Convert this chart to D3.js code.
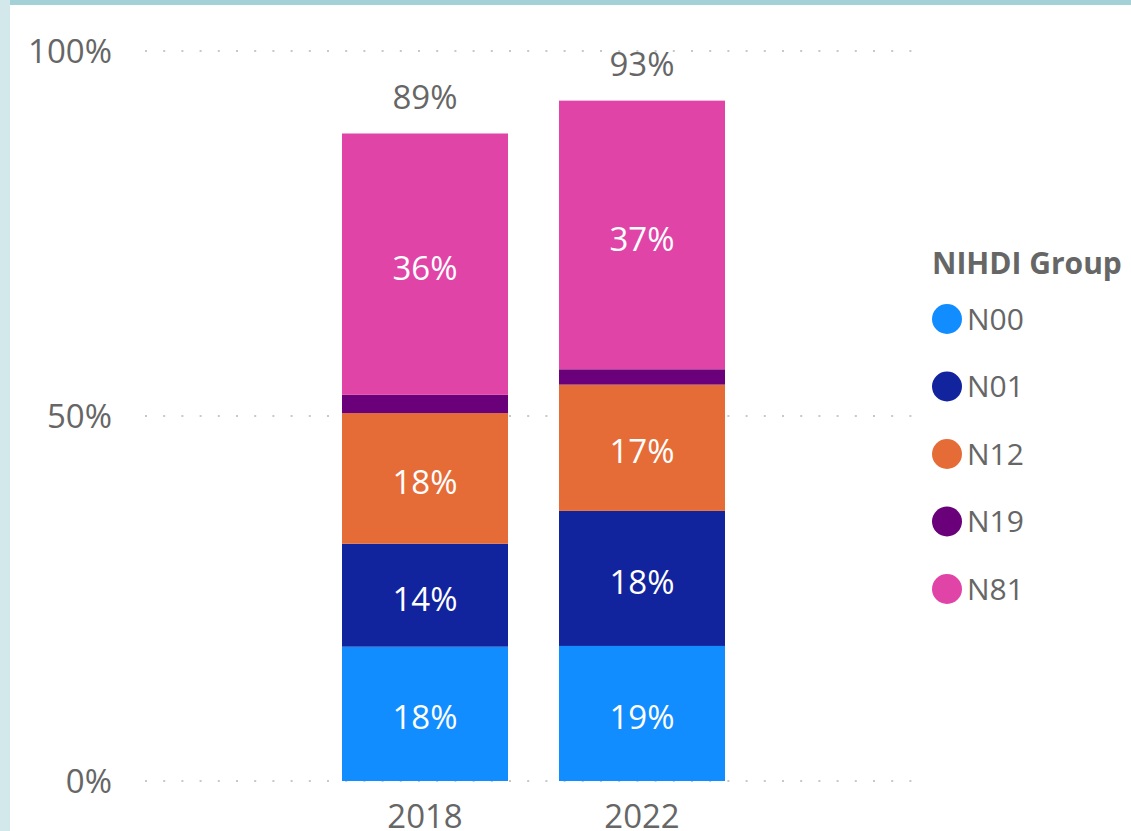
<!DOCTYPE html>
<html>
<head>
<meta charset="utf-8">
<script src="https://cdn.jsdelivr.net/npm/d3@7"></script>
<style>
  html, body { margin: 0; padding: 0; background: #fff; }
  svg { display: block; font-family: "Open Sans", "Noto Sans", sans-serif; }
</style>
</head>
<body>
<svg id="chart" width="1131" height="831"></svg>
<script>
// values, in percent
const years = ['2018', '2022']
const groups = ['N00', 'N01', 'N12', 'N19', 'N81']
const n00 = [18.4, 18.5]
const n01 = [14.1, 18.5]
const n12 = [17.9, 17.3]
const n19 = [2.5, 2.1]
const n81 = [35.8, 36.8]
const totalLabels = ['89%', '93%']
const segLabels = {
  N00: ['18%', '19%'],
  N01: ['14%', '18%'],
  N12: ['18%', '17%'],
  N19: ['', ''],
  N81: ['36%', '37%']
}
const yTicks = [0, 50, 100]
const colors = ['#118DFF', '#12239E', '#E66C37', '#6B007B', '#E044A7']

const width = 1131
const height = 831
const margin = { top: 51, bottom: 50, left: 145, right: 211 }

const rows = years.map((y, i) => ({
  year: y,
  N00: n00[i], N01: n01[i], N12: n12[i], N19: n19[i], N81: n81[i]
}))
const stacked = d3.stack().keys(groups)(rows)

const svg = d3.select('#chart')

// frame strips
svg.append('rect').attr('x', 0).attr('y', 0).attr('width', 10).attr('height', height).attr('fill', '#d3e8eb')
svg.append('rect').attr('x', 10).attr('y', 0).attr('width', width - 10).attr('height', 5).attr('fill', '#a4d0d7')

const xScale = d3.scaleBand()
  .domain(years)
  .range([342, 725])
  .paddingInner(0.235)
  .paddingOuter(0)

const yScale = d3.scaleLinear()
  .domain([0, 100])
  .range([height - margin.bottom, margin.top])

const color = d3.scaleOrdinal().domain(groups).range(colors)

// dotted grid
svg.append('g')
  .selectAll('line')
  .data(yTicks)
  .join('line')
  .attr('x1', margin.left)
  .attr('x2', 921)
  .attr('y1', d => yScale(d))
  .attr('y2', d => yScale(d))
  .attr('stroke', '#c8c8c8')
  .attr('stroke-width', 2)
  .attr('stroke-dasharray', '2 16.2')

// y axis
const yAxisG = svg.append('g')
  .attr('transform', `translate(${margin.left - 30}, 0)`)
  .call(d3.axisLeft(yScale).tickValues(yTicks).tickFormat(d => d + '%').tickSize(0))
yAxisG.select('.domain').remove()
yAxisG.selectAll('text')
  .attr('fill', '#666666')
  .attr('font-size', 33)
  .attr('font-family', '"Open Sans", sans-serif')
  .attr('dy', '0.35em')

// x axis
const xAxisG = svg.append('g')
  .attr('transform', `translate(0, ${height - margin.bottom})`)
  .call(d3.axisBottom(xScale).tickSize(0))
xAxisG.select('.domain').remove()
xAxisG.selectAll('text')
  .attr('fill', '#666666')
  .attr('font-size', 33)
  .attr('font-family', '"Open Sans", sans-serif')
  .attr('dy', 0)
  .attr('y', 47)

// bars
const layer = svg.append('g')
  .selectAll('g')
  .data(stacked)
  .join('g')
  .attr('fill', d => color(d.key))

layer.selectAll('rect')
  .data(d => d)
  .join('rect')
  .attr('x', d => xScale(d.data.year))
  .attr('y', d => yScale(d[1]))
  .attr('width', xScale.bandwidth())
  .attr('height', d => yScale(d[0]) - yScale(d[1]))

// segment labels
stacked.forEach(s => {
  svg.append('g')
    .selectAll('text')
    .data(s)
    .join('text')
    .attr('x', d => xScale(d.data.year) + xScale.bandwidth() / 2)
    .attr('y', d => yScale((d[0] + d[1]) / 2) + 4)
    .attr('dy', '0.35em')
    .attr('text-anchor', 'middle')
    .attr('fill', '#ffffff')
    .attr('font-size', 33)
    .text((d, i) => segLabels[s.key][i])
})

// totals
svg.append('g')
  .selectAll('text')
  .data(stacked[stacked.length - 1])
  .join('text')
  .attr('x', d => xScale(d.data.year) + xScale.bandwidth() / 2)
  .attr('y', d => yScale(d[1]) - 36)
  .attr('dy', '0.35em')
  .attr('text-anchor', 'middle')
  .attr('fill', '#666666')
  .attr('font-size', 33)
  .text((d, i) => totalLabels[i])

// legend
const legend = svg.append('g').attr('transform', 'translate(932, 0)')
legend.append('text')
  .attr('x', 0)
  .attr('y', 274)
  .attr('fill', '#666666')
  .attr('font-size', 30)
  .attr('font-weight', 'bold')
  .text('NIHDI Group')

const legendY = d3.scalePoint().domain(groups).range([319, 589])
const item = legend.selectAll('.item')
  .data(groups)
  .join('g')
  .attr('class', 'item')
  .attr('transform', d => `translate(0, ${legendY(d)})`)
item.append('circle')
  .attr('cx', 15)
  .attr('cy', 0)
  .attr('r', 15)
  .attr('fill', d => color(d))
item.append('text')
  .attr('x', 35)
  .attr('dy', '0.35em')
  .attr('fill', '#666666')
  .attr('font-size', 30)
  .text(d => d)
</script>
</body>
</html>
